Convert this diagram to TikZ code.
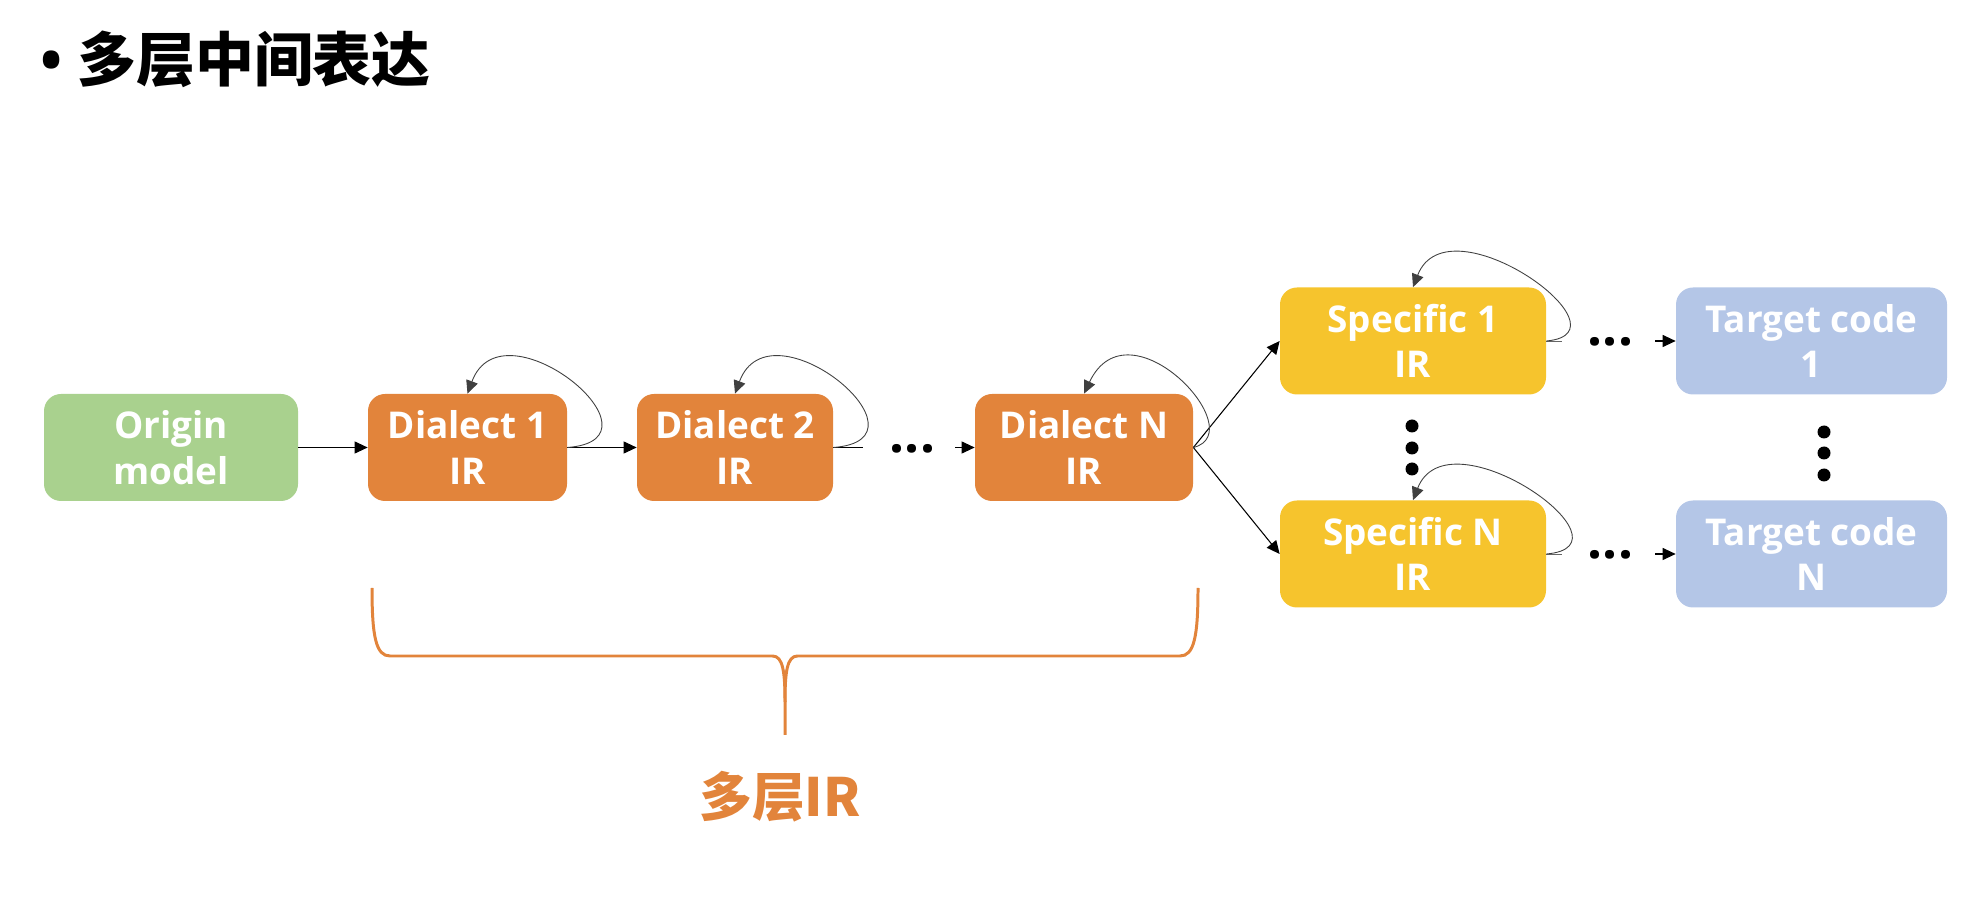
\documentclass[tikz,border=0pt]{standalone}
\usepackage{fontspec}
\setmainfont{Open Sans}
\newfontfamily\cjkfont{Noto Sans CJK SC}
\usetikzlibrary{arrows.meta}
\definecolor{origgreen}{HTML}{A9D18E}
\definecolor{dialorange}{HTML}{E2843B}
\definecolor{specyellow}{HTML}{F6C42D}
\definecolor{tgtblue}{HTML}{B4C6E7}

\begin{document}
\begin{tikzpicture}[
	irbox/.style={rounded corners=0.34cm,minimum height=2.14cm,inner sep=0pt,text=white,align=center,font=\fontsize{21}{26}\selectfont\bfseries},
	flow/.style={-{Triangle[length=0.26cm,width=0.24cm]},line width=0.6pt},
	selfloop/.style={-{Triangle[length=0.26cm,width=0.24cm]},line width=0.5pt,draw=black!75},
	dotsym/.style={anchor=base,inner sep=0pt,font=\fontsize{30}{36}\selectfont\bfseries}
]
	\useasboundingbox (0,0) rectangle (39.32,18.04);

	\node (title) at (0.8,16.86) [anchor=west,inner sep=0pt,font=\fontsize{33.5}{40}\selectfont\bfseries] {\textbullet\hspace{0.3cm}{\cjkfont 多层中间表达}};

	\node (origin) at (3.42,9.09) [irbox,fill=origgreen,minimum width=5.08cm] {Origin\\model};
	\node (dia1) at (9.35,9.09) [irbox,fill=dialorange,minimum width=3.98cm] {Dialect 1\\IR};
	\node (dia2) at (14.70,9.09) [irbox,fill=dialorange,minimum width=3.92cm] {Dialect 2\\IR};
	\node (diaN) at (21.68,9.09) [irbox,fill=dialorange,minimum width=4.36cm] {Dialect N\\IR};

	\node (spec1) at (28.26,11.22) [irbox,fill=specyellow,minimum width=5.32cm] {Specific 1\\IR};
	\node (specN) at (28.26,6.96) [irbox,fill=specyellow,minimum width=5.32cm] {Specific N\\IR};
	\node (tgt1) at (36.23,11.22) [irbox,fill=tgtblue,minimum width=5.42cm] {Target code\\1};
	\node (tgtN) at (36.23,6.96) [irbox,fill=tgtblue,minimum width=5.42cm] {Target code\\N};

	%dots between stages
	\node (dots1) at (18.25,8.99) [dotsym] {...};
	\node (dots2) at (32.21,11.13) [dotsym] {...};
	\node (dots3) at (32.21,6.87) [dotsym] {...};
	\coordinate (dia2stub) at (17.26,9.09);
	\coordinate (diaNin) at (19.10,9.09);
	\coordinate (spec1stub) at (31.24,11.22);
	\coordinate (tgt1in) at (33.10,11.22);
	\coordinate (specNstub) at (31.24,6.96);
	\coordinate (tgtNin) at (33.10,6.96);

	\draw[flow] (origin) -- (dia1);
	\draw[flow] (dia1) -- (dia2);
	\draw[line width=0.6pt] (dia2.east) -- (dia2stub);
	\draw[flow] (diaNin) -- (diaN.west);
	\draw[flow] (diaN.east) -- (spec1.west);
	\draw[flow] (diaN.east) -- (specN.west);
	\draw[line width=0.5pt,black!60] (spec1.east) -- (spec1stub);
	\draw[flow] (tgt1in) -- (tgt1.west);
	\draw[line width=0.5pt,black!60] (specN.east) -- (specNstub);
	\draw[flow] (tgtNin) -- (tgtN.west);

	%self loops
	\draw[selfloop] (dia1.east) .. controls +(2.14,0.16) and +(0.7,1.9) .. (dia1.north);
	\draw[selfloop] (dia2.east) .. controls +(2.14,0.16) and +(0.7,1.9) .. (dia2.north);
	\draw[selfloop] (diaN.east) .. controls +(1.2,0.3) and +(0.9,1.9) .. (diaN.north);
	\draw[selfloop] (spec1.east) .. controls +(1.8,0.16) and +(0.7,1.8) .. (spec1.north);
	\draw[selfloop] (specN.east) .. controls +(1.9,0.16) and +(0.7,1.8) .. (specN.north);

	%vertical dots
	\fill (28.24,9.52) circle (0.13);
	\fill (28.24,9.08) circle (0.13);
	\fill (28.24,8.66) circle (0.13);
	\fill (36.48,9.40) circle (0.13);
	\fill (36.48,8.98) circle (0.13);
	\fill (36.48,8.54) circle (0.13);

	%brace
	\draw[dialorange,line width=1.7pt] (7.44,6.28) .. controls (7.44,5.3) and (7.52,4.92) .. (7.80,4.92) -- (15.45,4.92) .. controls (15.66,4.92) and (15.70,4.6) .. (15.70,4.0) -- (15.70,3.34);
	\draw[dialorange,line width=1.7pt] (15.70,4.0) .. controls (15.70,4.6) and (15.74,4.92) .. (15.95,4.92) -- (23.60,4.92) .. controls (23.88,4.92) and (23.96,5.3) .. (23.96,6.28);

	\node (multiir) at (15.6,2.1) [text=dialorange,font=\cjkfont\fontsize{30}{36}\selectfont\bfseries] {多层IR};
\end{tikzpicture}
\end{document}
